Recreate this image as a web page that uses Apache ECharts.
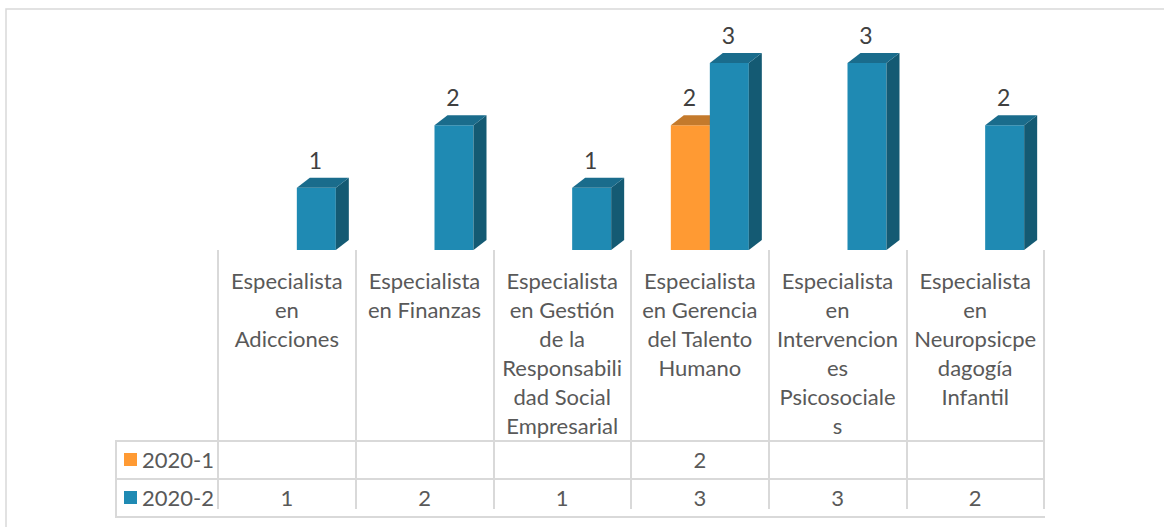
<!DOCTYPE html>
<html>
<head>
<meta charset="utf-8">
<script src="https://cdn.jsdelivr.net/npm/echarts@6/dist/echarts.min.js"></script>
<style>
html,body{margin:0;padding:0;background:#fff;}
#chart{width:1164px;height:527px;}
</style>
</head>
<body>
<div id="chart"></div>
<script>
// ---- data ----
var categories = [
  "Especialista en Adicciones",
  "Especialista en Finanzas",
  "Especialista en Gestión de la Responsabilidad Social Empresarial",
  "Especialista en Gerencia del Talento Humano",
  "Especialista en Intervenciones Psicosociales",
  "Especialista en Neuropsicpedagogía Infantil"
];
var categoryLabels = [
  "Especialista\nen\nAdicciones",
  "Especialista\nen Finanzas",
  "Especialista\nen Gestión\nde la\nResponsabili\ndad Social\nEmpresarial",
  "Especialista\nen Gerencia\ndel Talento\nHumano",
  "Especialista\nen\nIntervencion\nes\nPsicosociale\ns",
  "Especialista\nen\nNeuropsicpe\ndagogía\nInfantil"
];
var seriesNames = ["2020-1", "2020-2"];
var values2020_1 = [null, null, null, 2, null, null];
var values2020_2 = [1, 2, 1, 3, 3, 2];

// ---- style ----
var FONT = "Lato";
var colors = {
  "2020-1": {front: "#FF9A33", side: "#B66A1F", top: "#C47A2C"},
  "2020-2": {front: "#1F8AB3", side: "#145A73", top: "#1A6C8C"}
};
var DX = 13, DY = -10;

function make3D(name, offL, offR) {
  var c = colors[name];
  return function (params, api) {
    var v = api.value(1);
    if (v == null || isNaN(v)) return;
    var base = api.coord([api.value(0), 0]);
    var topP = api.coord([api.value(0), v]);
    var cx = base[0];
    var x0 = cx + offL, x1 = cx + offR;
    var yb = base[1], yt = topP[1];
    return {
      type: "group",
      children: [
        {type: "rect", shape: {x: x0, y: yt, width: x1 - x0, height: yb - yt},
         style: {fill: c.front}},
        {type: "polygon", shape: {points: [[x1, yt], [x1 + DX, yt + DY], [x1 + DX, yb + DY], [x1, yb]]},
         style: {fill: c.side}},
        {type: "polygon", shape: {points: [[x0, yt], [x1, yt], [x1 + DX, yt + DY], [x0 + DX, yt + DY]]},
         style: {fill: c.top}},
        {type: "text", x: (x0 + x1) / 2 - 1, y: yt - 28,
         style: {text: String(v), fill: "#404040", font: "23px " + FONT, align: "center", verticalAlign: "middle"}}
      ]
    };
  };
}

var chart = echarts.init(document.getElementById("chart"), null, {renderer: "svg"});

var option = {
  backgroundColor: "#ffffff",
  animation: false,
  grid: {left: 218, right: 120, top: 63, bottom: 277},
  xAxis: {
    type: "category",
    data: categories,
    offset: 8,
    axisLine: {show: false},
    axisTick: {show: true, length: 259, lineStyle: {color: "#D9D9D9", width: 2}},
    axisLabel: {
      margin: 8,
      interval: 0,
      formatter: function (val, idx) { return categoryLabels[idx]; },
      color: "#595959",
      fontFamily: FONT,
      fontSize: 22,
      lineHeight: 29,
      align: "center"
    }
  },
  yAxis: {type: "value", min: 0, max: 3, show: false, splitLine: {show: false}},
  series: [
    {name: seriesNames[0], type: "custom", renderItem: make3D(seriesNames[0], -29, 10),
     data: values2020_1.map(function (v, i) { return [i, v]; }), z: 2},
    {name: seriesNames[1], type: "custom", renderItem: make3D(seriesNames[1], 10, 49),
     data: values2020_2.map(function (v, i) { return [i, v]; }), z: 3}
  ]
};
chart.setOption(option);

// ---- data table ----
var gridLine = {stroke: "#D9D9D9", lineWidth: 2};
var g = [
  {type: "rect", shape: {x: 6, y: 9, width: 1200, height: 560}, style: {fill: "none", stroke: "#D9D9D9", lineWidth: 1.5}, silent: true},
  {type: "line", shape: {x1: 116, y1: 441, x2: 1045, y2: 441}, style: gridLine},
  {type: "line", shape: {x1: 116, y1: 479, x2: 1045, y2: 479}, style: gridLine},
  {type: "line", shape: {x1: 116, y1: 517, x2: 1045, y2: 517}, style: gridLine},
  {type: "line", shape: {x1: 116, y1: 440, x2: 116, y2: 518}, style: gridLine}
];
var rows = [values2020_1, values2020_2];
var rowY = [459, 497];
seriesNames.forEach(function (name, r) {
  g.push({type: "rect", shape: {x: 124, y: rowY[r] - 6, width: 13, height: 13}, style: {fill: colors[name].front}});
  g.push({type: "text", x: 142, y: rowY[r],
          style: {text: name, fill: "#595959", font: "22px " + FONT, verticalAlign: "middle", align: "left"}});
  rows[r].forEach(function (v, i) {
    if (v == null) return;
    var px = chart.convertToPixel({xAxisIndex: 0}, i);
    g.push({type: "text", x: px, y: rowY[r],
            style: {text: String(v), fill: "#595959", font: "22px " + FONT, align: "center", verticalAlign: "middle"}});
  });
});
chart.setOption({graphic: {elements: g}});
</script>
</body>
</html>
